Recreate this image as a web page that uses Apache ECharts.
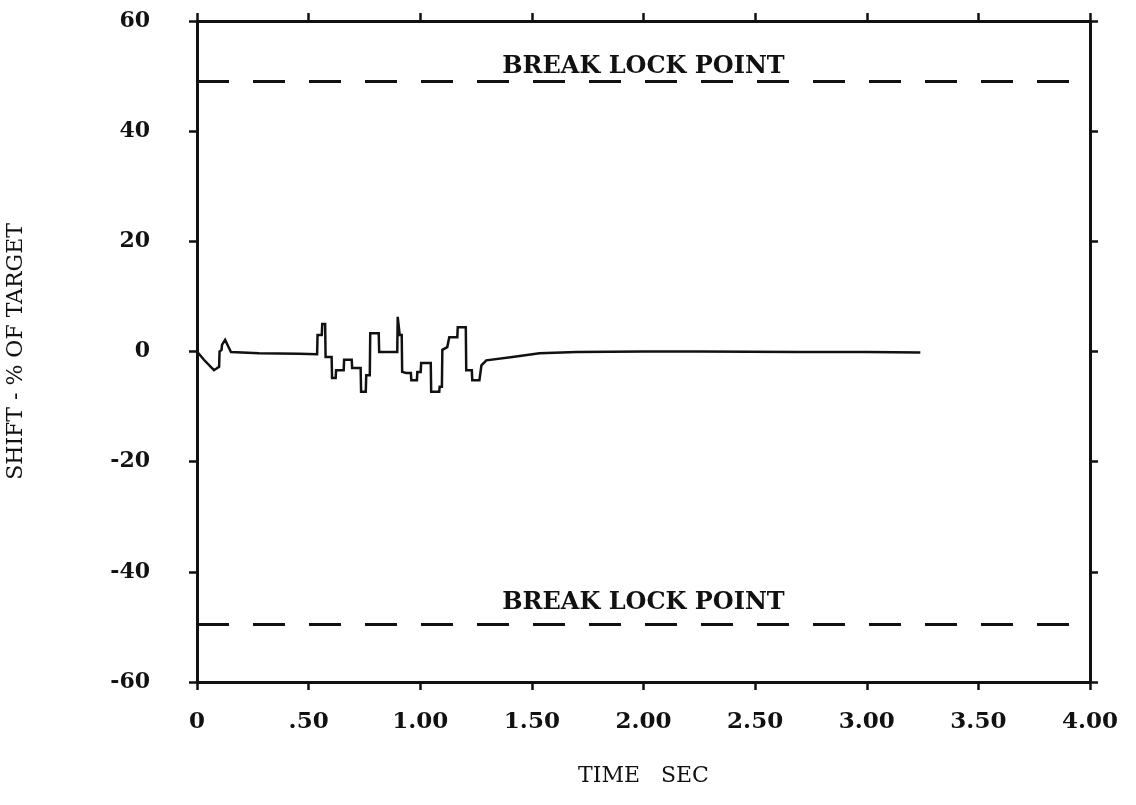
<!DOCTYPE html>
<html>
<head>
<meta charset="utf-8">
<title>Shift vs Time</title>
<script src="https://cdn.jsdelivr.net/npm/echarts@6/dist/echarts.min.js"></script>
<style>
  html, body { margin: 0; padding: 0; background: #ffffff; }
  #chart { width: 1136px; height: 805px; }
</style>
</head>
<body>
<div id="chart"></div>
<script>
// Time samples (sec) and shift (% of target)
const timeSec = [
  0.000, 0.031, 0.076, 0.099, 0.101, 0.110, 0.112, 0.126, 0.139, 0.152,
  0.278, 0.457, 0.538, 0.540, 0.559, 0.561, 0.574, 0.576, 0.603, 0.605,
  0.621, 0.623, 0.657, 0.659, 0.693, 0.695, 0.733, 0.735, 0.756, 0.758,
  0.774, 0.776, 0.814, 0.816, 0.897, 0.899, 0.906, 0.908, 0.917, 0.919,
  0.937, 0.958, 0.960, 0.985, 0.987, 1.002, 1.004, 1.047, 1.049, 1.085,
  1.087, 1.097, 1.099, 1.121, 1.128, 1.130, 1.166, 1.168, 1.204, 1.206,
  1.231, 1.233, 1.265, 1.274, 1.296, 1.413, 1.534, 1.700, 2.000, 2.250,
  2.700, 3.000, 3.240
];
const shiftPct = [
   0.0, -1.5, -3.4, -2.8,  0.0,  0.3,  1.2,  2.1,  1.0, -0.1,
  -0.3, -0.4, -0.5,  3.0,  3.0,  5.0,  5.0, -1.0, -1.0, -4.8,
  -4.8, -3.4, -3.4, -1.5, -1.5, -3.0, -3.0, -7.3, -7.3, -4.3,
  -4.3,  3.3,  3.3, -0.1, -0.1,  6.3,  6.3,  3.0,  3.0, -3.7,
  -3.9, -3.9, -5.2, -5.2, -3.7, -3.7, -2.1, -2.1, -7.3, -7.3,
  -6.4, -6.4,  0.3,  0.8,  0.8,  2.6,  2.6,  4.4,  4.4, -3.4,
  -3.4, -5.2, -5.2, -2.5, -1.6, -1.0, -0.3, -0.1,  0.0,  0.0,
  -0.1, -0.1, -0.2
];

// Break lock thresholds (% of target)
const breakLockUpper = 49;
const breakLockLower = -49.5;
const breakLockText = 'BREAK LOCK POINT';

// Axis ticks
const xTicks = [0, 0.5, 1, 1.5, 2, 2.5, 3, 3.5, 4];
const xTickLabels = ['0', '.50', '1.00', '1.50', '2.00', '2.50', '3.00', '3.50', '4.00'];
const yTicks = [-60, -40, -20, 0, 20, 40, 60];
const yTickLabels = ['-60', '-40', '-20', '0', '20', '40', '60'];

const ink = '#111111';
const serif = '"DejaVu Serif", "Liberation Serif", serif';

const xLabelFor = v => {
  const i = xTicks.findIndex(t => Math.abs(t - v) < 1e-6);
  return i >= 0 ? xTickLabels[i] : '';
};
const yLabelFor = v => {
  const i = yTicks.indexOf(v);
  return i >= 0 ? yTickLabels[i] : '';
};

const frameLine = { show: true, onZero: false, lineStyle: { color: ink, width: 3 } };
const outTick = { show: true, inside: false, length: 8, lineStyle: { color: ink, width: 2.5 } };

const chart = echarts.init(document.getElementById('chart'), null, { renderer: 'canvas' });

chart.setOption({
  backgroundColor: '#ffffff',
  animation: false,
  grid: {
    left: 197, right: 46, top: 21, bottom: 123,
    containLabel: false,
    outerBoundsMode: 'none'
  },
  xAxis: [
    {
      type: 'value',
      position: 'bottom',
      min: xTicks[0], max: xTicks[xTicks.length - 1], interval: 0.5,
      axisLine: frameLine,
      axisTick: outTick,
      splitLine: { show: false },
      axisLabel: {
        margin: 29,
        color: ink,
        fontFamily: serif,
        fontWeight: 'bold',
        fontSize: 23,
        formatter: xLabelFor
      },
      name: 'TIME   SEC',
      nameLocation: 'middle',
      nameGap: 83,
      nameTextStyle: { color: ink, fontFamily: serif, fontSize: 22, fontWeight: 'normal' }
    },
    {
      type: 'value',
      position: 'top',
      min: xTicks[0], max: xTicks[xTicks.length - 1], interval: 0.5,
      axisLine: frameLine,
      axisTick: outTick,
      axisLabel: { show: false },
      splitLine: { show: false }
    }
  ],
  yAxis: [
    {
      type: 'value',
      position: 'left',
      min: yTicks[0], max: yTicks[yTicks.length - 1], interval: 20,
      axisLine: frameLine,
      axisTick: outTick,
      splitLine: { show: false },
      axisLabel: {
        margin: 47,
        color: ink,
        fontFamily: serif,
        fontWeight: 'bold',
        fontSize: 22,
        formatter: yLabelFor
      },
      name: 'SHIFT - % OF TARGET',
      nameLocation: 'middle',
      nameGap: 170,
      nameRotate: 90,
      nameTextStyle: { color: ink, fontFamily: serif, fontSize: 22, fontWeight: 'normal' }
    },
    {
      type: 'value',
      position: 'right',
      min: yTicks[0], max: yTicks[yTicks.length - 1], interval: 20,
      axisLine: frameLine,
      axisTick: outTick,
      axisLabel: { show: false },
      splitLine: { show: false }
    }
  ],
  series: [
    {
      type: 'line',
      xAxisIndex: 0,
      yAxisIndex: 0,
      data: timeSec.map((t, i) => [t, shiftPct[i]]),
      showSymbol: false,
      symbol: 'none',
      smooth: false,
      lineStyle: { color: ink, width: 2.5, join: 'miter' },
      z: 3,
      markLine: {
        silent: true,
        symbol: ['none', 'none'],
        lineStyle: { color: ink, width: 3, type: [32, 24] },
        label: {
          show: true,
          position: 'insideMiddleTop',
          formatter: breakLockText,
          color: ink,
          fontFamily: serif,
          fontSize: 24,
          fontWeight: 'bold'
        },
        data: [
          { yAxis: breakLockUpper, label: { distance: 3 } },
          { yAxis: breakLockLower, label: { distance: 9 } }
        ]
      }
    }
  ]
});
</script>
</body>
</html>
